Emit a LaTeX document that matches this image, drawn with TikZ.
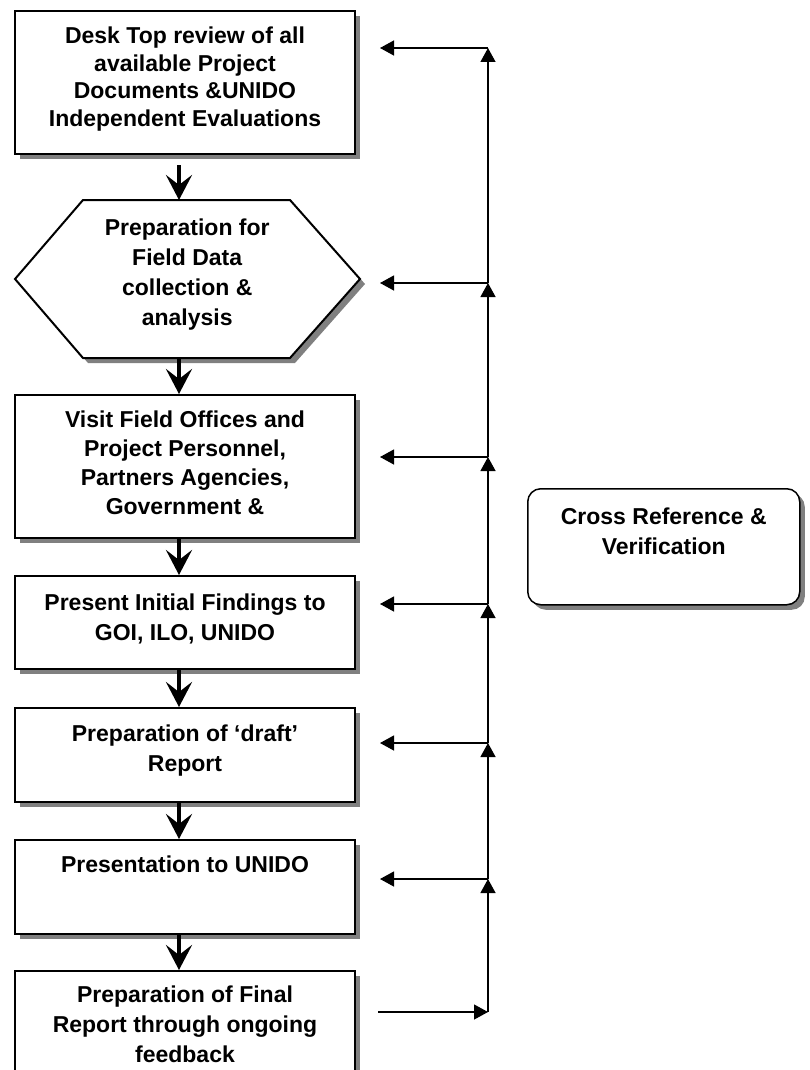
\documentclass[tikz,border=0pt]{standalone}
\usepackage{fontspec}
\setmainfont{Liberation Sans}
\usetikzlibrary{arrows.meta,shadows}

% text set at the top of a box: height, width, top gap, text
\newcommand{\steptext}[4]{\parbox[c][#1][t]{#2}{\centering\vspace*{#3}#4}}

\begin{document}
\begin{tikzpicture}[x=1pt, y=-1pt,
    font=\bfseries\fontsize{23}{30}\selectfont,
    stage/.style={draw, line width=2pt, fill=white, inner sep=0pt, anchor=north west,
      drop shadow={shadow xshift=5pt, shadow yshift=-5pt, fill=black!50, opacity=1}},
    flow/.style={line width=4.5pt, -{Stealth[length=25pt, width=26pt, inset=10pt]}},
    back/.style={line width=1.3pt, -{Triangle[length=14pt, width=15pt]}}]

  \path[use as bounding box, fill=white] (0,0) rectangle (809,1070);

  % Draw the stages
  \node[stage] (desk) at (14,10) {\steptext{143pt}{340pt}{16pt}{\baselineskip=27.5pt
    Desk Top review of all\\available Project\\Documents \&UNIDO\\Independent Evaluations}};

  \filldraw[line width=2pt, fill=white,
      drop shadow={shadow xshift=5pt, shadow yshift=-5pt, fill=black!50, opacity=1}]
    (15,279) -- (83,200) -- (290,200) -- (360,279) -- (290,358) -- (83,358) -- cycle;
  \node[anchor=north west, inner sep=0pt] (prep) at (14,200) {\steptext{158pt}{346pt}{19pt}{%
    Preparation for\\Field Data\\collection \&\\analysis}};

  \node[stage] (visit) at (14,394) {\steptext{143pt}{340pt}{16pt}{\baselineskip=29pt
    Visit Field Offices and\\Project Personnel,\\Partners Agencies,\\Government \&}};
  \node[stage] (present) at (14,575) {\steptext{93pt}{340pt}{18pt}{%
    Present Initial Findings to\\GOI, ILO, UNIDO}};
  \node[stage] (draft) at (14,707) {\steptext{94pt}{340pt}{17pt}{%
    Preparation of ‘draft’\\Report}};
  \node[stage] (unido) at (14,839) {\steptext{94pt}{340pt}{16pt}{%
    Presentation to UNIDO}};
  \node[stage] (final) at (14,970) {\steptext{120pt}{340pt}{15pt}{%
    Preparation of Final\\Report through ongoing\\feedback}};

  \node[stage, rounded corners=13pt, line width=1.5pt] (cross) at (527,488) {\steptext{116pt}{272pt}{19pt}{%
    Cross Reference \&\\Verification}};

  % Draw the flow between stages
  \coordinate (col) at (179,0);
  \draw[flow, shorten <=10pt] (desk.south -| col) -- (prep.north -| col);
  \draw[flow] (prep.south -| col) -- (visit.north -| col);
  \draw[flow] (visit.south -| col) -- (present.north -| col);
  \draw[flow] (present.south -| col) -- (draft.north -| col);
  \draw[flow] (draft.south -| col) -- (unido.north -| col);
  \draw[flow] (unido.south -| col) -- (final.north -| col);

  % Draw the feedback line
  \coordinate (s0) at (378,1012);
  \coordinate (j0) at (488,1012);
  \foreach \i/\y in {1/48,2/283,3/457,4/604,5/743,6/879}{
    \coordinate (j\i) at (488,\y);
    \coordinate (t\i) at (380,\y);
    \draw[back] (j\i) -- (t\i);
  }
  \draw[back] (s0) -- (j0);
  \foreach \a/\b in {0/6,6/5,5/4,4/3,3/2,2/1}
    \draw[back] (j\a) -- (j\b);
\end{tikzpicture}
\end{document}
